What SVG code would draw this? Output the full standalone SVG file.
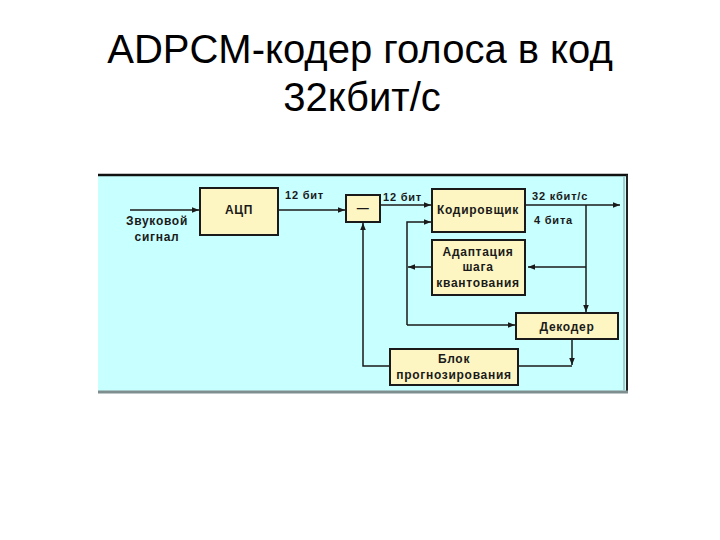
<svg xmlns="http://www.w3.org/2000/svg" width="720" height="540" viewBox="0 0 720 540">
<style>
.title{font-family:"Liberation Sans",Arial,sans-serif;font-size:40px;fill:#000;text-anchor:middle}
.box{fill:#fdf6c3;stroke:#1a1a1a;stroke-width:2}
.lbl{font-family:"Liberation Sans",Arial,sans-serif;font-size:12px;font-weight:bold;fill:#1a1a1a;text-anchor:middle;letter-spacing:0.7px}
.lbls{font-family:"Liberation Sans",Arial,sans-serif;font-size:11px;font-weight:bold;fill:#1a1a1a;letter-spacing:0.8px}
.ln{fill:none;stroke:#1a1a1a;stroke-width:1.5}
</style>
<defs>
<marker id="ah" viewBox="0 0 10 10" refX="10" refY="5" markerWidth="7" markerHeight="7" markerUnits="userSpaceOnUse" orient="auto">
<path d="M0,1 L10,5 L0,9 z" fill="#1a1a1a"/>
</marker>
</defs>
<rect width="720" height="540" fill="#fff"/>
<text class="title" x="360" y="63">ADPCM-кодер голоса в код</text>
<text class="title" x="362" y="111">32кбит/с</text>
<g id="panel">
<rect x="98" y="175" width="530" height="217" fill="#c8ffff"/>
<line x1="98" y1="175" x2="628" y2="175" stroke="#111" stroke-width="2.5"/>
<line x1="627" y1="175" x2="627" y2="392" stroke="#222" stroke-width="2"/>
<line x1="624" y1="177" x2="624" y2="390" stroke="#8a9a9a" stroke-width="1"/>
<line x1="98" y1="392" x2="628" y2="392" stroke="#7f8f8f" stroke-width="3"/>
</g>
<g id="connectors">
<line class="ln" x1="130" y1="210" x2="199" y2="210" marker-end="url(#ah)"/>
<line class="ln" x1="279" y1="210" x2="345" y2="210" marker-end="url(#ah)"/>
<line class="ln" x1="381" y1="205" x2="431" y2="205" marker-end="url(#ah)"/>
<line class="ln" x1="526" y1="205" x2="620" y2="205" marker-end="url(#ah)"/>
<polyline class="ln" points="586,205 586,312" marker-end="url(#ah)"/>
<line class="ln" x1="586" y1="267" x2="528" y2="267" marker-end="url(#ah)"/>
<line class="ln" x1="432" y1="267" x2="408" y2="267" marker-end="url(#ah)"/>
<polyline class="ln" points="407,325 407,222 431,222" marker-end="url(#ah)"/>
<line class="ln" x1="407" y1="325" x2="515" y2="325" marker-end="url(#ah)"/>
<line class="ln" x1="572" y1="340" x2="572" y2="365" marker-end="url(#ah)"/>
<line class="ln" x1="518" y1="366" x2="572" y2="366"/>
<polyline class="ln" points="390,366 363,366 363,223" marker-end="url(#ah)"/>
<text class="lbls" x="285" y="199">12 бит</text>
<text class="lbls" x="383" y="201">12 бит</text>
<text class="lbls" x="532" y="200">32 кбит/с</text>
<text class="lbls" x="534" y="224">4 бита</text>
<text class="lbl" x="157" y="225">Звуковой</text>
<text class="lbl" x="157" y="241">сигнал</text>
</g>
<g id="adc">
<rect class="box" x="200" y="188" width="78" height="47"/>
<text class="lbl" x="239" y="214">АЦП</text>
</g>
<g id="minus">
<rect class="box" x="346" y="195" width="34" height="27"/>
<text class="lbl" x="363" y="212" font-size="13" letter-spacing="0">—</text>
</g>
<g id="coder">
<rect class="box" x="432" y="189" width="93" height="43"/>
<text class="lbl" x="478" y="214">Кодировщик</text>
</g>
<g id="adapt">
<rect class="box" x="432" y="240" width="93" height="55"/>
<text class="lbl" x="478" y="256">Адаптация</text>
<text class="lbl" x="478" y="271">шага</text>
<text class="lbl" x="478" y="287">квантования</text>
</g>
<g id="decoder">
<rect class="box" x="516" y="313" width="102" height="26"/>
<text class="lbl" x="567" y="331">Декодер</text>
</g>
<g id="predictor">
<rect class="box" x="390" y="349" width="128" height="36"/>
<text class="lbl" x="454" y="363">Блок</text>
<text class="lbl" x="454" y="379">прогнозирования</text>
</g>
</svg>
